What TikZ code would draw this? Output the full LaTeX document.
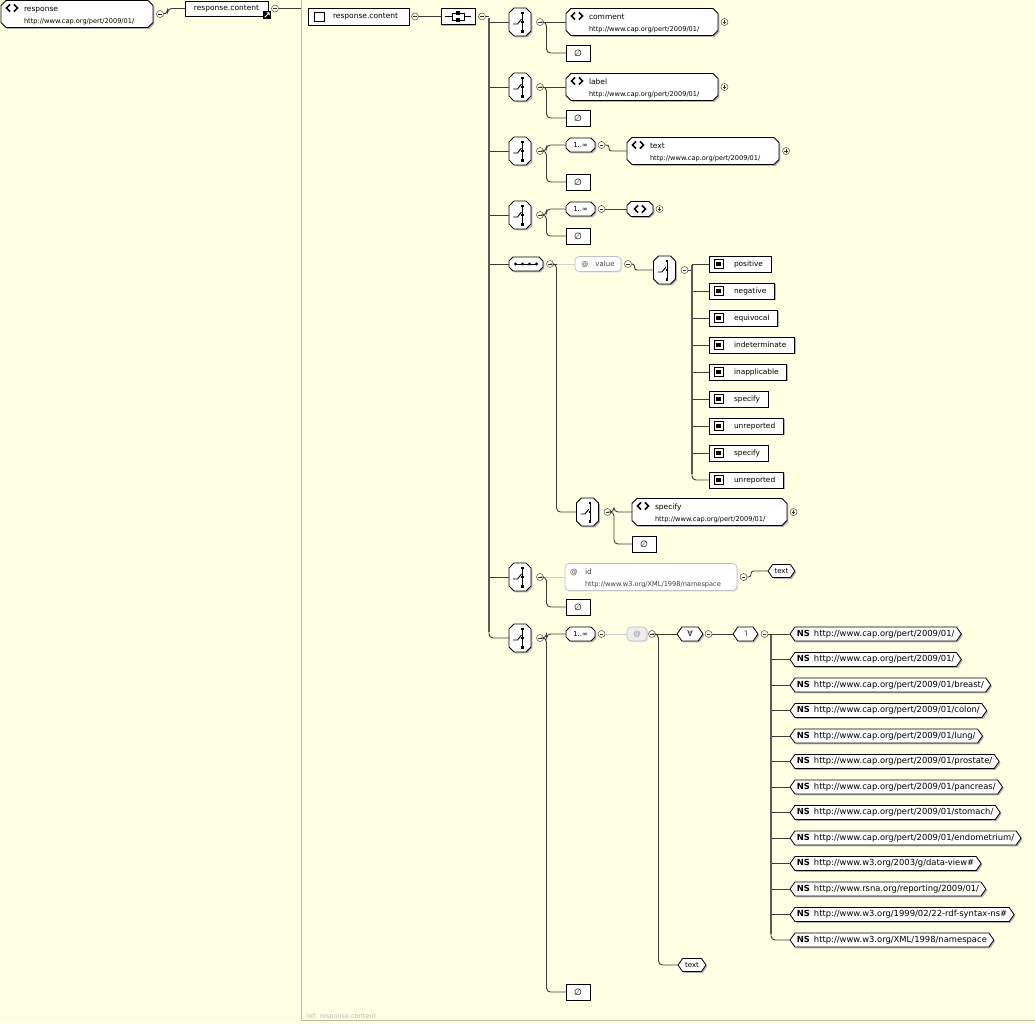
\documentclass[tikz,border=0pt]{standalone}
\usepackage{fontspec}
\setmainfont{DejaVu Sans}
\usetikzlibrary{shapes.symbols,shadows,calc}
\definecolor{paper}{RGB}{255,255,228}
\definecolor{frame}{RGB}{190,190,170}
\definecolor{wire}{RGB}{60,60,55}
\definecolor{trunkc}{RGB}{90,90,84}
\pgfdeclarelayer{bg}
\pgfsetlayers{bg,main}

\tikzset{
  every node/.style={inner sep=0pt, outer sep=0pt},
  sh/.style={general shadow={fill=black!30, shadow xshift=1.4pt, shadow yshift=-1.4pt}},
  lightsh/.style={general shadow={fill=black!10, shadow xshift=1.2pt, shadow yshift=-1.2pt}},
  box/.style={rectangle, draw=black, fill=white, line width=0.8pt, sh},
  cbox/.style={rectangle, draw=none, fill=none},
  rep/.style={cbox, minimum width=29pt, minimum height=14pt, font=\fontsize{6.8}{8}\selectfont},
  hex/.style={signal, signal to=west and east, signal pointer angle=110, draw=black, fill=white,
              line width=0.8pt, sh},
  attr/.style={rectangle, rounded corners=4pt, draw=black!25, fill=white, line width=0.7pt, lightsh, text=black!75},
  opn/.style={circle, draw=black!70, line width=0.5pt, minimum size=7pt,
    path picture={\draw[line width=0.6pt, black!80]
      ([xshift=1.6pt]path picture bounding box.west) -- ([xshift=-1.6pt]path picture bounding box.east);}},
  cls/.style={circle, draw=black!70, line width=0.5pt, minimum size=7pt,
    path picture={\draw[line width=0.6pt, black!80]
      ([xshift=1.6pt]path picture bounding box.west) -- ([xshift=-1.6pt]path picture bounding box.east)
      ([yshift=-1.6pt]path picture bounding box.north) -- ([yshift=1.6pt]path picture bounding box.south);}},
  conn/.style={draw=wire, line width=0.9pt, rounded corners=4pt},
  trunk/.style={draw=trunkc, line width=2.3pt},
  attconn/.style={draw=black!18, line width=0.8pt},
  chev/.style={line width=1.5pt, line join=miter, line cap=butt},
  tfont/.style={font=\fontsize{7.5}{9}\selectfont},
  ufont/.style={font=\fontsize{6.6}{8}\selectfont},
  nsfont/.style={font=\fontsize{8.4}{10}\selectfont},
}

% outline with cut corners around a named node: name, cut
\newcommand\chpath[2]{($(#1.north west)+(#2,0)$) -- ($(#1.north east)+(-#2,0)$) -- ($(#1.north east)+(0,#2)$)
  -- ($(#1.south east)+(0,-#2)$) -- ($(#1.south east)+(-#2,0)$) -- ($(#1.south west)+(#2,0)$)
  -- ($(#1.south west)+(0,-#2)$) -- ($(#1.north west)+(0,#2)$) -- cycle}
\newcommand\chamf[2]{%
  \begin{pgfonlayer}{bg}
    \fill[black!30, transform canvas={shift={(1.4pt,-1.4pt)}}] \chpath{#1}{#2};
    \filldraw[fill=white, draw=black, line width=0.8pt, line join=round] \chpath{#1}{#2};
  \end{pgfonlayer}}
% element icon: two bold chevrons, left tip at (x,y)
\newcommand\elemicon[2]{%
  \draw[chev] ({#1+3.6},{#2-3.6}) -- (#1,#2) -- ({#1+3.6},{#2+3.6});
  \draw[chev] ({#1+7.4},{#2-3.6}) -- ({#1+11},#2) -- ({#1+7.4},{#2+3.6});
}
% element box: name, x, y, width, title, namespace
\newcommand\elembox[6]{%
  \node[cbox, minimum width=#4pt, minimum height=27pt, anchor=west] (#1) at (#2,#3) {};
  \chamf{#1}{5}
  \elemicon{#2+5.5}{#3-6}
  \node[tfont, anchor=base west] (#1-t) at ({#2+23},{#3-3}) {#5};
  \node[ufont, anchor=base west] (#1-u) at ({#2+23},{#3+9}) {#6};
}
% choice compositor: name, x, y
\newcommand\choicebox[3]{%
  \node[cbox, minimum width=22pt, minimum height=28pt] (#1) at (#2,#3) {};
  \chamf{#1}{5}
  \begin{scope}[shift={(#1.center)}, line width=0.9pt]
    \draw (2.5,-9.5) -- (2.5,9.5);
    \fill (1.2,-10.5) rectangle (3.8,-7.9);
    \fill (1.2,-1.3) rectangle (3.8,1.3);
    \fill (1.2,7.9) rectangle (3.8,10.5);
    \draw (-7,2) -- (-2.5,2) -- (1.5,-3);
  \end{scope}
  \node[opn] (#1-m) at ({#2+20},#3) {};
}
% empty particle: name, x, y
\newcommand\nilbox[3]{%
  \node[box, minimum width=24pt, minimum height=16pt, anchor=west, font=\fontsize{9}{9}\selectfont] (#1) at (#2,#3) {∅};
}
% enumeration value: name, y, text
\newcommand\valitem[3]{%
  \node[box, minimum height=16pt, anchor=west, font=\fontsize{7.4}{9}\selectfont] (#1) at (709,#2) {\kern25pt#3\kern8pt};
  \draw[line width=0.7pt, fill=white] (714,{#2-4.5}) rectangle (723,{#2+4.5});
  \fill (716.3,{#2-2.2}) rectangle (720.7,{#2+2.2});
}
% namespace entry: name, y, uri
\newcommand\nsitem[3]{%
  \node[hex, minimum height=14pt, inner xsep=2pt, anchor=west, nsfont] (#1) at (790,#2) {\textbf{NS}\hspace{4pt}#3};
}

\begin{document}
\begin{tikzpicture}[x=1pt,y=-1pt]
\begin{pgfonlayer}{bg}
  \path[fill=paper] (0,0) rectangle (1035,1023);
\end{pgfonlayer}
\path[use as bounding box] (0,0) rectangle (1035,1023);

% ---- global element and its reference
\elembox{resp}{1}{14}{152}{response}{http://www.cap.org/pert/2009/01/}
\node[opn] (resp-m) at (160,14) {};
\node[box, minimum width=83pt, minimum height=15pt, anchor=west, tfont] (rc) at (185,8.5) {response.content};
\node[fill=black, minimum size=8pt] (rc-ref) at (267,15) {};
\draw[white, line width=0.8pt] ($(rc-ref.center)+(-2.3,2.3)$) -- ($(rc-ref.center)+(1.8,-1.8)$);
\fill[white] ($(rc-ref.center)+(2.6,-2.6)$) -- ++(-3.2,0) -- ++(3.2,3.2) -- cycle;
\node[opn] (rc-m) at (275,8.5) {};
\coordinate (rc-out) at (301,8.5);
\draw[conn] (resp-m.east) -- ++(4,0) |- (rc.west);
\draw[conn] (rc-m.east) -- (rc-out);

% ---- definition panel
\draw[frame, line width=0.8pt] (301,0) -- (301,1020) -- (1035,1020);
\node[anchor=base west, font=\fontsize{6.5}{8}\selectfont, text=black!28] (reflbl) at (306,1018) {ref: response.content};

\node[box, minimum width=101pt, minimum height=17pt, anchor=west] (ct) at (308,16.5) {};
\draw[line width=0.7pt] (314,12) rectangle (324,21);
\node[tfont, anchor=west] (ct-t) at (333,16.5) {response.content};
\node[opn] (ct-m) at (415,16.5) {};
\node[box, minimum width=34pt, minimum height=16pt] (mseq) at (458,16.5) {};
\begin{scope}[shift={(mseq.center)}, line width=0.8pt]
  \draw (-13,0) -- (-6,0) (6,0) -- (13,0);
  \draw (-6,-3.5) rectangle (6,3.5);
  \fill (-2,-5.5) rectangle (2,-1.5);
  \fill (-2,1.5) rectangle (2,5.5);
\end{scope}
\node[opn] (mseq-m) at (482,16.5) {};
\draw[conn] (ct-m.east) -- (mseq.west);

% ---- choice: comment
\choicebox{c1}{520}{22}
\elembox{comment}{566}{22}{152}{comment}{http://www.cap.org/pert/2009/01/}
\node[cls] (comment-p) at (724.5,22) {};
\nilbox{e1}{566}{53}
\draw[conn] (c1-m.east) -- (comment.west);
\draw[conn] (c1-m.east) -- ++(3,0) |- (e1.west);

% ---- choice: label
\choicebox{c2}{520}{87}
\elembox{label}{566}{87}{152}{label}{http://www.cap.org/pert/2009/01/}
\node[cls] (label-p) at (724.5,87) {};
\nilbox{e2}{566}{118}
\draw[conn] (c2-m.east) -- (label.west);
\draw[conn] (c2-m.east) -- ++(3,0) |- (e2.west);

% ---- choice: repeated text
\choicebox{c3}{520}{151}
\node[rep, anchor=west] (r3) at (566,145) {1..∞};
\chamf{r3}{4}
\node[opn] (r3-m) at (601.5,145) {};
\elembox{textel}{627}{151}{152}{text}{http://www.cap.org/pert/2009/01/}
\node[cls] (textel-p) at (786,151) {};
\nilbox{e3}{566}{182}
\draw[conn] (c3-m.east) -- ++(3,0) |- (r3.west);
\draw[conn] (c3-m.east) -- ++(3,0) |- (e3.west);
\draw[conn, rounded corners=2.5pt] (r3-m.east) -- ++(4,0) |- (textel.west);

% ---- choice: repeated any element
\choicebox{c4}{520}{215}
\node[rep, anchor=west] (r4) at (566,209) {1..∞};
\chamf{r4}{4}
\node[opn] (r4-m) at (601.5,209) {};
\node[cbox, minimum width=26pt, minimum height=15pt, anchor=west] (any) at (627,209) {};
\chamf{any}{4}
\elemicon{634.5}{209}
\node[cls] (any-p) at (659.5,209) {};
\nilbox{e4}{566}{236}
\draw[conn] (c4-m.east) -- ++(3,0) |- (r4.west);
\draw[conn] (c4-m.east) -- ++(3,0) |- (e4.west);
\draw[conn] (r4-m.east) -- (any.west);

% ---- sequence: value attribute and specify
\node[cbox, minimum width=34pt, minimum height=14pt] (sq) at (526,264) {};
\chamf{sq}{4}
\begin{scope}[shift={(sq.center)}]
  \draw[line width=0.8pt] (-11,0) -- (11,0);
  \foreach \q in {-10.5,-3.5,3.5,10.5} \fill (\q,0) circle (1.7);
\end{scope}
\node[opn] (sq-m) at (550,264) {};
\node[attr, minimum width=46pt, minimum height=15pt, anchor=west, font=\fontsize{7}{8}\selectfont] (val) at (575,264) {@\hspace{7pt}value};
\node[opn] (val-m) at (628,264) {};
\draw[attconn] (sq-m.east) -- (val.west);
\draw[conn] (sq-m.east) -- ++(3,0);

\choicebox{cv}{664.5}{270}
\draw[conn, rounded corners=2.5pt] (val-m.east) -- ++(3,0) |- (cv.west);
\coordinate (vt) at (692,0);
\valitem{v1}{264}{positive}
\valitem{v2}{291}{negative}
\valitem{v3}{318}{equivocal}
\valitem{v4}{345}{indeterminate}
\valitem{v5}{372}{inapplicable}
\valitem{v6}{399}{specify}
\valitem{v7}{426}{unreported}
\valitem{v8}{453}{specify}
\valitem{v9}{480}{unreported}
\draw[conn] (cv-m.east) -- (cv-m.east -| vt);
\foreach \i in {1,...,8} \draw[conn] (v\i.west -| vt) -- (v\i.west);
\draw[conn] ($(v9.west -| vt)+(0,-8)$) |- (v9.west);
\draw[trunk] ($(v1.west -| vt)+(0,1)$) -- ($(v9.west -| vt)+(0,-6)$);

\choicebox{cs}{587.5}{512}
\elembox{spec}{632}{512}{155}{specify}{http://www.cap.org/pert/2009/01/}
\node[cls] (spec-p) at (793.5,512) {};
\nilbox{e5}{632}{544}
\draw[conn] (sq-m.east) -- ++(3,0) |- (cs.west);
\draw[conn] (cs-m.east) -- ++(3,0) |- (spec.west);
\draw[conn] (cs-m.east) -- ++(3,0) |- (e5.west);

% ---- choice: id attribute
\choicebox{c6}{520}{577}
\node[attr, minimum width=172pt, minimum height=27pt, anchor=west] (ida) at (565,577) {};
\node[anchor=base west, font=\fontsize{7.5}{9}\selectfont, text=black!75] (ida-a) at (570,574) {@};
\node[anchor=base west, font=\fontsize{7.5}{9}\selectfont, text=black!75] (ida-t) at (585,574) {id};
\node[anchor=base west, ufont, text=black!75] (ida-u) at (585,586) {http://www.w3.org/XML/1998/namespace};
\node[opn] (ida-m) at (743.5,577) {};
\node[hex, minimum height=13pt, inner xsep=2pt, anchor=west, font=\fontsize{7}{8}\selectfont] (txt1) at (768,571) {text};
\nilbox{e6}{566}{607}
\draw[attconn] (c6-m.east) -- (ida.west);
\draw[conn] (c6-m.east) -- ++(3,0) |- (e6.west);
\draw[conn, rounded corners=2.5pt] (ida-m.east) -- ++(4,0) |- (txt1.west);

% ---- choice: any attribute from listed namespaces
\choicebox{c7}{520}{638}
\node[rep, anchor=west] (r7) at (566,634) {1..∞};
\chamf{r7}{4}
\node[opn] (r7-m) at (601.5,634) {};
\node[attr, fill=black!7, minimum width=20pt, minimum height=14pt, anchor=west, text=black!45, font=\fontsize{7.5}{8}\selectfont] (aat) at (627,634) {@};
\node[opn] (aat-m) at (652,634) {};
\node[hex, minimum width=26pt, minimum height=14pt, anchor=west, font=\fontsize{8}{8}\selectfont] (fa) at (677,634) {∀};
\node[opn] (fa-m) at (708.5,634) {};
\node[hex, minimum width=25pt, minimum height=14pt, anchor=west, font=\fontsize{8}{8}\selectfont] (ot) at (733,634) {˥};
\node[opn] (ot-m) at (764.5,634) {};
\node[hex, minimum width=28pt, minimum height=13pt, inner xsep=2pt, anchor=west, font=\fontsize{7}{8}\selectfont] (txt2) at (678,965) {text};
\nilbox{e7}{566}{992}
\draw[conn] (c7-m.east) -- ++(3,0) |- (r7.west);
\draw[conn] (c7-m.east) -- ++(3,0) |- (e7.west);
\draw[attconn] (r7-m.east) -- (aat.west);
\draw[conn] (aat-m.east) -- (fa.west);
\draw[conn] (aat-m.east) -- ++(3,0) |- (txt2.west);
\draw[conn] (fa-m.east) -- (ot.west);

\coordinate (nt) at (771,0);
\nsitem{n1}{634}{http://www.cap.org/pert/2009/01/}
\nsitem{n2}{659.5}{http://www.cap.org/pert/2009/01/}
\nsitem{n3}{685}{http://www.cap.org/pert/2009/01/breast/}
\nsitem{n4}{710.5}{http://www.cap.org/pert/2009/01/colon/}
\nsitem{n5}{736}{http://www.cap.org/pert/2009/01/lung/}
\nsitem{n6}{761.5}{http://www.cap.org/pert/2009/01/prostate/}
\nsitem{n7}{787}{http://www.cap.org/pert/2009/01/pancreas/}
\nsitem{n8}{812.5}{http://www.cap.org/pert/2009/01/stomach/}
\nsitem{n9}{838}{http://www.cap.org/pert/2009/01/endometrium/}
\nsitem{n10}{863.5}{http://www.w3.org/2003/g/data-view\#}
\nsitem{n11}{889}{http://www.rsna.org/reporting/2009/01/}
\nsitem{n12}{914.5}{http://www.w3.org/1999/02/22-rdf-syntax-ns\#}
\nsitem{n13}{940}{http://www.w3.org/XML/1998/namespace}
\draw[conn] (ot-m.east) -- (ot-m.east -| nt);
\foreach \i in {1,...,12} \draw[conn] (n\i.west -| nt) -- (n\i.west);
\draw[conn] ($(n13.west -| nt)+(0,-8)$) |- (n13.west);
\draw[trunk] ($(n1.west -| nt)+(0,1)$) -- ($(n13.west -| nt)+(0,-6)$);

% ---- main sequence trunk
\coordinate (mt) at (489,0);
\draw[conn] (mseq-m.east) -- (mseq-m.east -| mt);
\foreach \c in {c1,c2,c3,c4,sq,c6} \draw[conn] (\c.west -| mt) -- (\c.west);
\draw[conn] ($(c7.west -| mt)+(0,-8)$) |- (c7.west);
\draw[trunk] ($(mseq-m.east -| mt)+(0,1)$) -- ($(c7.west -| mt)+(0,-6)$);
\end{tikzpicture}
\end{document}
